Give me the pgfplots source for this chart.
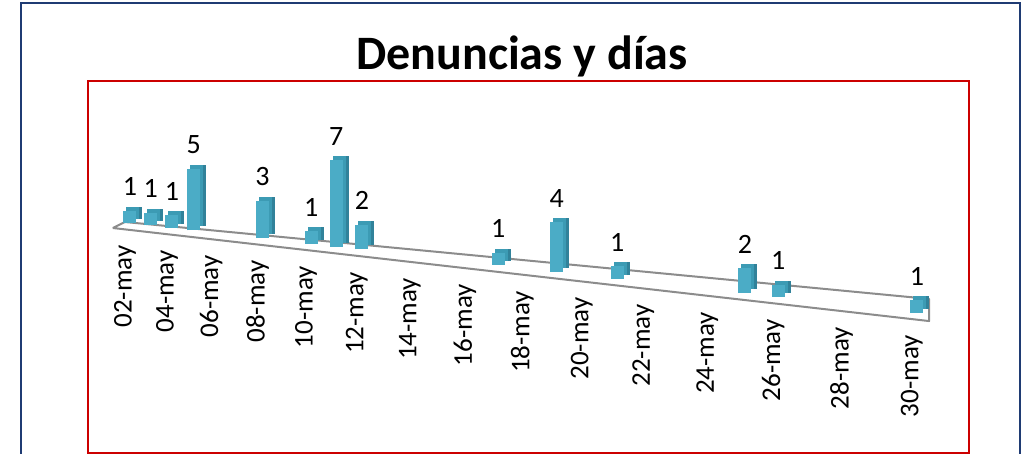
\documentclass[border=0pt]{standalone}
\usepackage{pgfplots}
\pgfplotsset{compat=1.18}
\usepackage{pgfplotstable}
\usepackage{fontspec}
\setmainfont{Carlito}
\definecolor{frontc}{HTML}{4BACC6}
\definecolor{sidec}{HTML}{31829A}
\definecolor{topc}{HTML}{3C9BB4}
\definecolor{navyc}{HTML}{1F3B73}
\definecolor{redc}{HTML}{CC0000}
\definecolor{floorc}{HTML}{8C8C8C}
\pgfplotstableread{
day count base
2 1 0
3 1 0
4 1 0
5 5 0
8 3 0
10 1 0
11 7 0
12 2 0
17 1 0
19 4 0
21 1 0
25 2 0
26 1 0
30 1 0
}\datatable
\begin{document}
\begin{tikzpicture}
\begin{axis}[
  x={(1pt,-0.114pt)}, y={(0pt,12.3pt)},
  x coord trafo/.code={\pgfmathparse{20.46*(#1-2)+0.273*(#1-2)*(#1-2)}},
  xmin=1.4, xmax=30.48, ymin=-0.52, ymax=8.5,
  axis line style={draw=none}, major tick length=0pt,
  xtick={2,4,6,8,10,12,14,16,18,20,22,24,26,28,30},
  xticklabels={02-may,04-may,06-may,08-may,10-may,12-may,14-may,16-may,18-may,20-may,22-may,24-may,26-may,28-may,30-may},
  ytick=\empty,
  xticklabel style={yshift=-16pt,rotate=90,anchor=east,inner sep=0pt,font=\fontsize{27}{27}\selectfont},
  /pgf/number format/assume math mode=true,
  clip=false,
]
\addplot[floorc, line width=2pt, line join=round] coordinates {(1.4,-0.52) (30.48,-0.52) (30.48,1.28) (2,0.08) (1.4,-0.52)};
\addplot[sidec, line width=13pt, line cap=butt, xshift=11pt, yshift=4pt,
  quiver={u=0, v=\thisrow{count}}] table[x=day, y=base]{\datatable};
\addplot[topc, line width=13pt, line cap=butt, xshift=8pt, yshift=4pt,
  quiver={u=0, v=\thisrow{count}}] table[x=day, y=base]{\datatable};
\addplot[frontc, line width=13pt, line cap=butt, xshift=5pt,
  quiver={u=0, v=\thisrow{count}}] table[x=day, y=base]{\datatable};
\addplot[draw=none, mark=none, xshift=5pt, nodes near coords,
  nodes near coords style={font=\fontsize{28}{28}\selectfont, text=black, anchor=south, inner sep=0pt, yshift=15pt}] table[x=day,y=count]{\datatable};
\coordinate (FL) at (axis cs:1.4,-0.52);
\end{axis}
\path (FL) ++(-112.8pt,228pt) coordinate (O);
\begin{scope}[shift={(O)},x=1pt,y=-1pt]
\draw[navyc, line width=1.8pt] (21,560) -- (21,3) -- (1020,3) -- (1020,560);
\draw[redc, line width=1.8pt] (88,453) rectangle (969,81);
\node[font=\fontsize{48}{48}\selectfont\bfseries, anchor=base] at (522,70) {Denuncias y días};
\end{scope}
\pgfresetboundingbox
\path[use as bounding box] (O) rectangle ++(1025pt,-454pt);
\end{tikzpicture}
\end{document}
